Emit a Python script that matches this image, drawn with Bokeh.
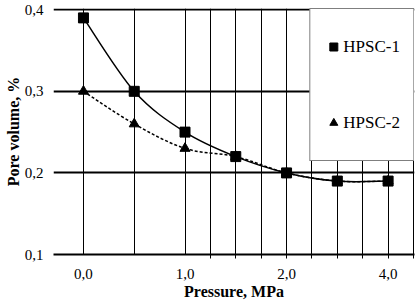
import numpy as np
from bokeh.plotting import figure
from bokeh.models import FixedTicker, Legend, LegendItem, Range1d
from bokeh.embed import file_html
from bokeh.resources import INLINE

# ---- data ----
pressure = [0.0, 0.5, 1.0, 1.5, 2.0, 3.0, 4.0]          # MPa (category positions)
hpsc1 = [0.39, 0.30, 0.25, 0.22, 0.20, 0.19, 0.19]       # pore volume, %
hpsc2 = [0.30, 0.26, 0.23, 0.22, 0.20, 0.19, 0.19]
y_ticks = [0.1, 0.2, 0.3, 0.4]
x_label_idx = [0, 2, 4, 6]
x_grid = [0, 1, 2, 2.5, 3, 3.5, 4, 4.5, 5, 5.5, 6, 6.5]
x_minor = [2.5, 3, 3.5, 4, 4.5, 5, 5.5, 6, 6.5]

FONT = "Liberation Serif"

xi = list(range(len(pressure)))


def smooth(xs, ys):
    P = np.column_stack([xs, ys]).astype(float)
    n = len(P)
    out = {k: [] for k in ("x0", "y0", "x1", "y1", "cx0", "cy0", "cx1", "cy1")}
    for i in range(n - 1):
        a = P[i - 1] if i > 0 else P[i]
        d = P[i + 2] if i + 2 < n else P[i + 1]
        c0 = P[i] + (P[i + 1] - a) / 6.0
        c1 = P[i + 1] - (d - P[i]) / 6.0
        out["x0"].append(P[i][0]); out["y0"].append(P[i][1])
        out["x1"].append(P[i + 1][0]); out["y1"].append(P[i + 1][1])
        out["cx0"].append(c0[0]); out["cy0"].append(c0[1])
        out["cx1"].append(c1[0]); out["cy1"].append(c1[1])
    return out


p = figure(width=417, height=302, output_backend="svg", toolbar_location=None,
           x_range=Range1d(-0.59, 6.52), y_range=Range1d(0.1, 0.4015),
           min_border_left=53, min_border_right=3, min_border_top=8, min_border_bottom=48)
p.outline_line_color = None
p.background_fill_color = "white"
p.border_fill_color = "white"

# grids
p.xgrid.ticker = FixedTicker(ticks=x_grid)
p.xgrid.grid_line_color = "black"
p.xgrid.grid_line_width = 1
p.ygrid.ticker = FixedTicker(ticks=[0.2, 0.3, 0.4])
p.ygrid.grid_line_color = "black"
p.ygrid.grid_line_width = 2

# x axis
p.xaxis.ticker = FixedTicker(ticks=x_label_idx, minor_ticks=x_minor)
p.xaxis.major_label_overrides = {i: f"{pressure[i]:.1f}".replace(".", ",") for i in x_label_idx}
p.xaxis.major_tick_line_color = None
p.xaxis.major_tick_out = 0
p.xaxis.major_tick_in = 0
p.xaxis.minor_tick_line_color = "black"
p.xaxis.minor_tick_out = 4
p.xaxis.minor_tick_in = 0
p.xaxis.axis_line_color = "black"
p.xaxis.axis_line_width = 2
p.xaxis.major_label_standoff = 10
p.xaxis.axis_label = "Pressure, MPa"
p.xaxis.axis_label_standoff = 1

# y axis
p.yaxis.ticker = FixedTicker(ticks=y_ticks, minor_ticks=[])
p.yaxis.major_label_overrides = {t: f"{t:.1f}".replace(".", ",") for t in y_ticks}
p.yaxis.axis_line_color = None
p.yaxis.major_tick_line_color = None
p.yaxis.major_tick_out = 0
p.yaxis.major_tick_in = 0
p.yaxis.minor_tick_line_color = None
p.yaxis.major_label_standoff = 10
p.yaxis.axis_label = "Pore volume, %"
p.yaxis.axis_label_standoff = 0

for ax in (p.xaxis[0], p.yaxis[0]):
    ax.major_label_text_font = FONT
    ax.major_label_text_font_size = "15px"
    ax.major_label_text_color = "black"
    ax.axis_label_text_font = FONT
    ax.axis_label_text_font_size = "16px"
    ax.axis_label_text_font_style = "bold"
    ax.axis_label_text_color = "black"

# curves
s1 = smooth(xi, hpsc1)
s2 = smooth(xi, hpsc2)
p.bezier(x0="x0", y0="y0", x1="x1", y1="y1", cx0="cx0", cy0="cy0", cx1="cx1", cy1="cy1",
         source=s2, line_color="black", line_width=1.5, line_dash="3 2")
p.bezier(x0="x0", y0="y0", x1="x1", y1="y1", cx0="cx0", cy0="cy0", cx1="cx1", cy1="cy1",
         source=s1, line_color="black", line_width=1.5)

r2 = p.scatter(xi, hpsc2, marker="triangle", size=10, fill_color="black", line_color="black")
r1 = p.scatter(xi, hpsc1, marker="square", size=10, fill_color="black", line_color="black")

legend = Legend(items=[LegendItem(label="HPSC-1", renderers=[r1]),
                       LegendItem(label="HPSC-2", renderers=[r2])],
                location="top_right", margin=0, padding=13, spacing=27,
                glyph_width=20, glyph_height=49, label_height=49, label_standoff=0,
                border_line_color="black", border_line_width=1,
                background_fill_color="white", background_fill_alpha=1.0,
                label_text_font=FONT, label_text_font_size="17px", label_text_color="black")
p.add_layout(legend)

open("out.html", "w").write(file_html(p, INLINE))
